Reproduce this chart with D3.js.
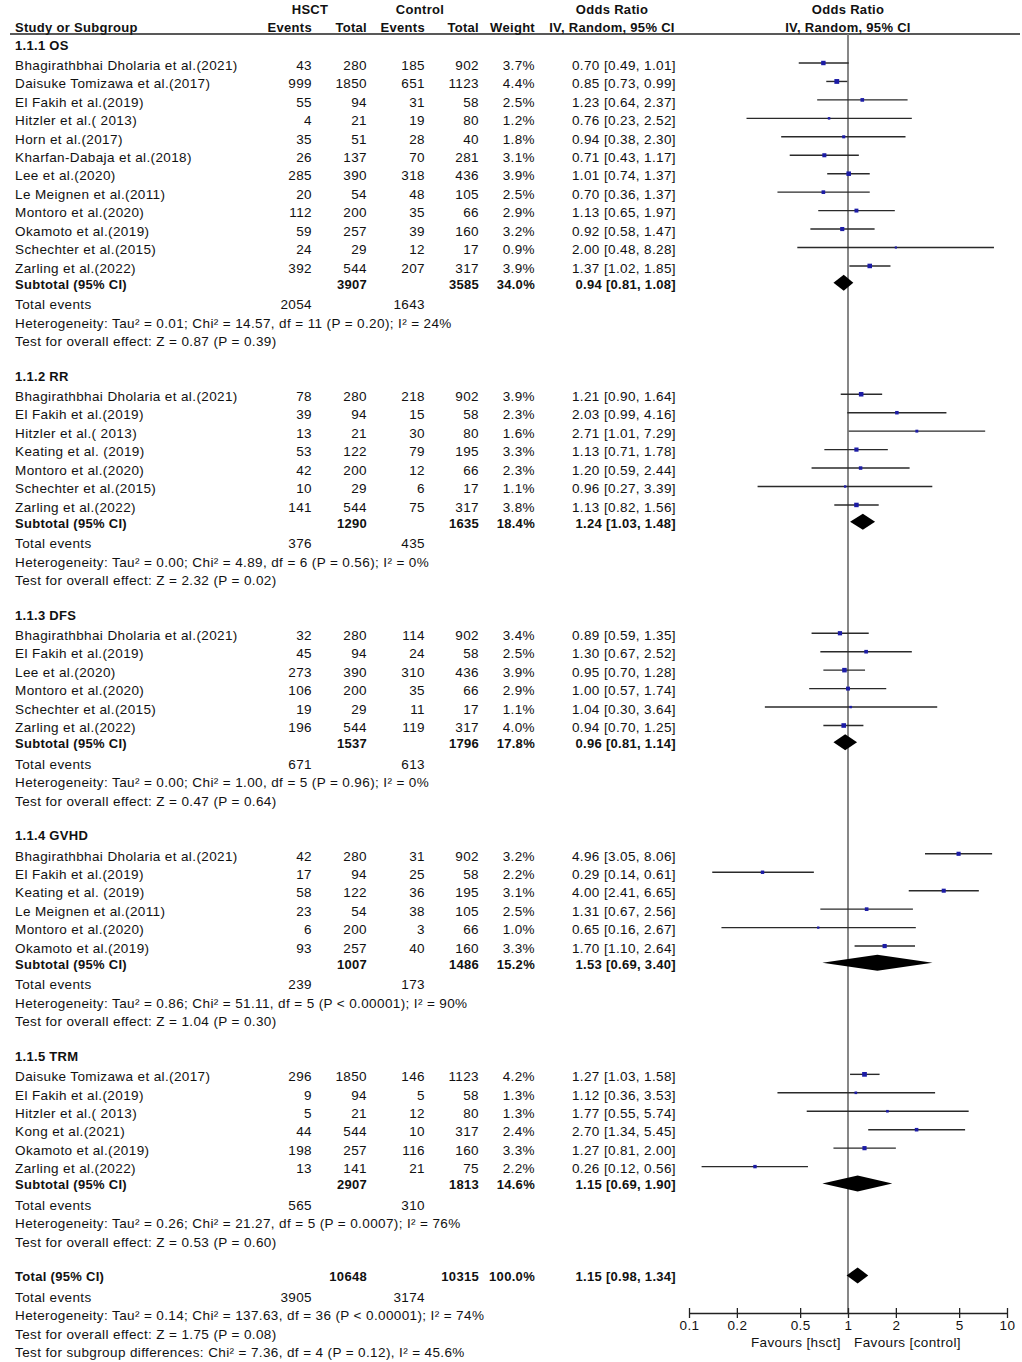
<!DOCTYPE html>
<html>
<head>
<meta charset="utf-8">
<script src="https://cdn.jsdelivr.net/npm/d3@7"></script>
<style>
  html, body { margin: 0; padding: 0; background: #fff; }
  svg text { font-family: "Liberation Sans", Arial, sans-serif; font-size: 13.5px; letter-spacing: 0.38px; fill: #111; }
  svg text.b { font-weight: bold; font-size: 13px; letter-spacing: 0.3px; }
</style>
</head>
<body>
<svg id="chart" width="1022" height="1362"></svg>
<script>
// ---------------- DATA ----------------
const groupLabels = ["1.1.1 OS", "1.1.2 RR", "1.1.3 DFS", "1.1.4 GVHD", "1.1.5 TRM"];

// [study, HSCT events, HSCT total, control events, control total, weight %, OR, lower, upper]
const osStudies = [
  ["Bhagirathbhai Dholaria et al.(2021)", 43, 280, 185, 902, 3.7, 0.70, 0.49, 1.01],
  ["Daisuke Tomizawa et al.(2017)", 999, 1850, 651, 1123, 4.4, 0.85, 0.73, 0.99],
  ["El Fakih et al.(2019)", 55, 94, 31, 58, 2.5, 1.23, 0.64, 2.37],
  ["Hitzler et al.( 2013)", 4, 21, 19, 80, 1.2, 0.76, 0.23, 2.52],
  ["Horn et al.(2017)", 35, 51, 28, 40, 1.8, 0.94, 0.38, 2.30],
  ["Kharfan-Dabaja et al.(2018)", 26, 137, 70, 281, 3.1, 0.71, 0.43, 1.17],
  ["Lee et al.(2020)", 285, 390, 318, 436, 3.9, 1.01, 0.74, 1.37],
  ["Le Meignen et al.(2011)", 20, 54, 48, 105, 2.5, 0.70, 0.36, 1.37],
  ["Montoro et al.(2020)", 112, 200, 35, 66, 2.9, 1.13, 0.65, 1.97],
  ["Okamoto et al.(2019)", 59, 257, 39, 160, 3.2, 0.92, 0.58, 1.47],
  ["Schechter et al.(2015)", 24, 29, 12, 17, 0.9, 2.00, 0.48, 8.28],
  ["Zarling et al.(2022)", 392, 544, 207, 317, 3.9, 1.37, 1.02, 1.85]
];
const rrStudies = [
  ["Bhagirathbhai Dholaria et al.(2021)", 78, 280, 218, 902, 3.9, 1.21, 0.90, 1.64],
  ["El Fakih et al.(2019)", 39, 94, 15, 58, 2.3, 2.03, 0.99, 4.16],
  ["Hitzler et al.( 2013)", 13, 21, 30, 80, 1.6, 2.71, 1.01, 7.29],
  ["Keating et al. (2019)", 53, 122, 79, 195, 3.3, 1.13, 0.71, 1.78],
  ["Montoro et al.(2020)", 42, 200, 12, 66, 2.3, 1.20, 0.59, 2.44],
  ["Schechter et al.(2015)", 10, 29, 6, 17, 1.1, 0.96, 0.27, 3.39],
  ["Zarling et al.(2022)", 141, 544, 75, 317, 3.8, 1.13, 0.82, 1.56]
];
const dfsStudies = [
  ["Bhagirathbhai Dholaria et al.(2021)", 32, 280, 114, 902, 3.4, 0.89, 0.59, 1.35],
  ["El Fakih et al.(2019)", 45, 94, 24, 58, 2.5, 1.30, 0.67, 2.52],
  ["Lee et al.(2020)", 273, 390, 310, 436, 3.9, 0.95, 0.70, 1.28],
  ["Montoro et al.(2020)", 106, 200, 35, 66, 2.9, 1.00, 0.57, 1.74],
  ["Schechter et al.(2015)", 19, 29, 11, 17, 1.1, 1.04, 0.30, 3.64],
  ["Zarling et al.(2022)", 196, 544, 119, 317, 4.0, 0.94, 0.70, 1.25]
];
const gvhdStudies = [
  ["Bhagirathbhai Dholaria et al.(2021)", 42, 280, 31, 902, 3.2, 4.96, 3.05, 8.06],
  ["El Fakih et al.(2019)", 17, 94, 25, 58, 2.2, 0.29, 0.14, 0.61],
  ["Keating et al. (2019)", 58, 122, 36, 195, 3.1, 4.00, 2.41, 6.65],
  ["Le Meignen et al.(2011)", 23, 54, 38, 105, 2.5, 1.31, 0.67, 2.56],
  ["Montoro et al.(2020)", 6, 200, 3, 66, 1.0, 0.65, 0.16, 2.67],
  ["Okamoto et al.(2019)", 93, 257, 40, 160, 3.3, 1.70, 1.10, 2.64]
];
const trmStudies = [
  ["Daisuke Tomizawa et al.(2017)", 296, 1850, 146, 1123, 4.2, 1.27, 1.03, 1.58],
  ["El Fakih et al.(2019)", 9, 94, 5, 58, 1.3, 1.12, 0.36, 3.53],
  ["Hitzler et al.( 2013)", 5, 21, 12, 80, 1.3, 1.77, 0.55, 5.74],
  ["Kong et al.(2021)", 44, 544, 10, 317, 2.4, 2.70, 1.34, 5.45],
  ["Okamoto et al.(2019)", 198, 257, 116, 160, 3.3, 1.27, 0.81, 2.00],
  ["Zarling et al.(2022)", 13, 141, 21, 75, 2.2, 0.26, 0.12, 0.56]
];
const groupStudies = [osStudies, rrStudies, dfsStudies, gvhdStudies, trmStudies];

// [HSCT total, control total, weight %, OR, lower, upper]
const subtotals = [
  [3907, 3585, 34.0, 0.94, 0.81, 1.08],
  [1290, 1635, 18.4, 1.24, 1.03, 1.48],
  [1537, 1796, 17.8, 0.96, 0.81, 1.14],
  [1007, 1486, 15.2, 1.53, 0.69, 3.40],
  [2907, 1813, 14.6, 1.15, 0.69, 1.90]
];
const subtotalEvents = [[2054, 1643], [376, 435], [671, 613], [239, 173], [565, 310]];
const heterogeneityTexts = [
  "Heterogeneity: Tau\u00b2 = 0.01; Chi\u00b2 = 14.57, df = 11 (P = 0.20); I\u00b2 = 24%",
  "Heterogeneity: Tau\u00b2 = 0.00; Chi\u00b2 = 4.89, df = 6 (P = 0.56); I\u00b2 = 0%",
  "Heterogeneity: Tau\u00b2 = 0.00; Chi\u00b2 = 1.00, df = 5 (P = 0.96); I\u00b2 = 0%",
  "Heterogeneity: Tau\u00b2 = 0.86; Chi\u00b2 = 51.11, df = 5 (P < 0.00001); I\u00b2 = 90%",
  "Heterogeneity: Tau\u00b2 = 0.26; Chi\u00b2 = 21.27, df = 5 (P = 0.0007); I\u00b2 = 76%"
];
const overallEffectTexts = [
  "Test for overall effect: Z = 0.87 (P = 0.39)",
  "Test for overall effect: Z = 2.32 (P = 0.02)",
  "Test for overall effect: Z = 0.47 (P = 0.64)",
  "Test for overall effect: Z = 1.04 (P = 0.30)",
  "Test for overall effect: Z = 0.53 (P = 0.60)"
];
const overallTotal = [10648, 10315, 100.0, 1.15, 0.98, 1.34];
const overallEvents = [3905, 3174];
const overallFooter = [
  "Heterogeneity: Tau\u00b2 = 0.14; Chi\u00b2 = 137.63, df = 36 (P < 0.00001); I\u00b2 = 74%",
  "Test for overall effect: Z = 1.75 (P = 0.08)",
  "Test for subgroup differences: Chi\u00b2 = 7.36, df = 4 (P = 0.12), I\u00b2 = 45.6%"
];
const axisTicks = [0.1, 0.2, 0.5, 1, 2, 5, 10];
const axisTickLabels = ["0.1", "0.2", "0.5", "1", "2", "5", "10"];
const favourLabels = ["Favours [hsct]", "Favours [control]"];

// ---------------- LAYOUT ----------------
const svg = d3.select("#chart");
svg.append("rect").attr("width", 1022).attr("height", 1362).attr("fill", "#fff");

const x = d3.scaleLog().domain([0.1, 10]).range([689, 1007]);
const col = { name: 15, eH: 312, tH: 367, eC: 425, tC: 479, w: 535, or: 676 };
const axisY = 1313, headerLineY = 34;

const fmt2 = d3.format(".2f");
const orText = (o, l, u) => `${fmt2(o)} [${fmt2(l)}, ${fmt2(u)}]`;
const wText = w => d3.format(".1f")(w) + "%";

function txt(xp, yc, s, anchor = "start", bold = false) {
  svg.append("text").attr("x", xp).attr("y", yc).attr("dy", "0.35em")
    .attr("text-anchor", anchor).attr("class", bold ? "b" : null).text(s);
}

// header
txt(310, 9, "HSCT", "middle", true);
txt(420, 9, "Control", "middle", true);
txt(612, 9, "Odds Ratio", "middle", true);
txt(848, 9, "Odds Ratio", "middle", true);
txt(col.name, 27, "Study or Subgroup", "start", true);
txt(col.eH, 27, "Events", "end", true);
txt(col.tH, 27, "Total", "end", true);
txt(col.eC, 27, "Events", "end", true);
txt(col.tC, 27, "Total", "end", true);
txt(col.w, 27, "Weight", "end", true);
txt(612, 27, "IV, Random, 95% CI", "middle", true);
txt(848, 27, "IV, Random, 95% CI", "middle", true);

svg.append("line").attr("x1", 10).attr("x2", 1020).attr("y1", headerLineY).attr("y2", headerLineY)
  .attr("stroke", "#222").attr("stroke-width", 1.3);

// reference line
svg.append("line").attr("x1", x(1)).attr("x2", x(1)).attr("y1", headerLineY).attr("y2", axisY)
  .attr("stroke", "#7a7a7a").attr("stroke-width", 1.8);

function diamond(yc, o, l, u) {
  const y = yc - 1.5, h = 8;
  svg.append("path")
    .attr("d", `M${x(l)},${y} L${x(o)},${y - h} L${x(u)},${y} L${x(o)},${y + h} Z`)
    .attr("fill", "#000");
}

let y = 45;
groupStudies.forEach((studies, gi) => {
  txt(col.name, y, groupLabels[gi], "start", true);
  y += 20;
  studies.forEach((s, i) => {
    if (i > 0) y += 18.45;
    const [name, eH, tH, eC, tC, w, o, l, u] = s;
    txt(col.name, y, name);
    txt(col.eH, y, eH, "end");
    txt(col.tH, y, tH, "end");
    txt(col.eC, y, eC, "end");
    txt(col.tC, y, tC, "end");
    txt(col.w, y, wText(w), "end");
    txt(col.or, y, orText(o, l, u), "end");
    const ly = y - 2;
    svg.append("line").attr("x1", x(l)).attr("x2", x(u)).attr("y1", ly).attr("y2", ly)
      .attr("stroke", "#2a2a2a").attr("stroke-width", 1.4);
    const side = 2.3 * Math.sqrt(w);
    svg.append("rect").attr("x", x(o) - side / 2).attr("y", ly - side / 2)
      .attr("width", side).attr("height", side).attr("fill", "#1c1ca6");
  });
  y += 16.3;
  const [stH, stC, sw, so, sl, su] = subtotals[gi];
  txt(col.name, y, "Subtotal (95% CI)", "start", true);
  txt(col.tH, y, stH, "end", true);
  txt(col.tC, y, stC, "end", true);
  txt(col.w, y, wText(sw), "end", true);
  txt(col.or, y, orText(so, sl, su), "end", true);
  diamond(y, so, sl, su);
  y += 20.3;
  txt(col.name, y, "Total events");
  txt(col.eH, y, subtotalEvents[gi][0], "end");
  txt(col.eC, y, subtotalEvents[gi][1], "end");
  y += 18.5;
  txt(col.name, y, heterogeneityTexts[gi]);
  y += 18.5;
  txt(col.name, y, overallEffectTexts[gi]);
  y += 34.7;
});

// overall total
{
  const [tH, tC, w, o, l, u] = overallTotal;
  txt(col.name, y, "Total (95% CI)", "start", true);
  txt(col.tH, y, tH, "end", true);
  txt(col.tC, y, tC, "end", true);
  txt(col.w, y, wText(w), "end", true);
  txt(col.or, y, orText(o, l, u), "end", true);
  diamond(y, o, l, u);
  y += 20.3;
  txt(col.name, y, "Total events");
  txt(col.eH, y, overallEvents[0], "end");
  txt(col.eC, y, overallEvents[1], "end");
  overallFooter.forEach(s => { y += 18.5; txt(col.name, y, s); });
}

// axis
const axis = d3.axisBottom(x).tickValues(axisTicks)
  .tickFormat((d, i) => axisTickLabels[i]).tickSize(5).tickSizeOuter(0);
const ax = svg.append("g").attr("transform", `translate(0,${axisY})`).call(axis);
ax.attr("font-family", null).attr("font-size", null);
ax.select(".domain").attr("stroke", "#222").attr("stroke-width", 1.3);
ax.selectAll(".tick line").attr("y1", -5).attr("y2", 5).attr("stroke", "#222").attr("stroke-width", 1.3);
ax.selectAll(".tick text").attr("y", 7).attr("dy", "0.71em").attr("fill", "#111");

txt(x(1) - 7, 1342, favourLabels[0], "end");
txt(x(1) + 6, 1342, favourLabels[1], "start");
</script>
</body>
</html>
